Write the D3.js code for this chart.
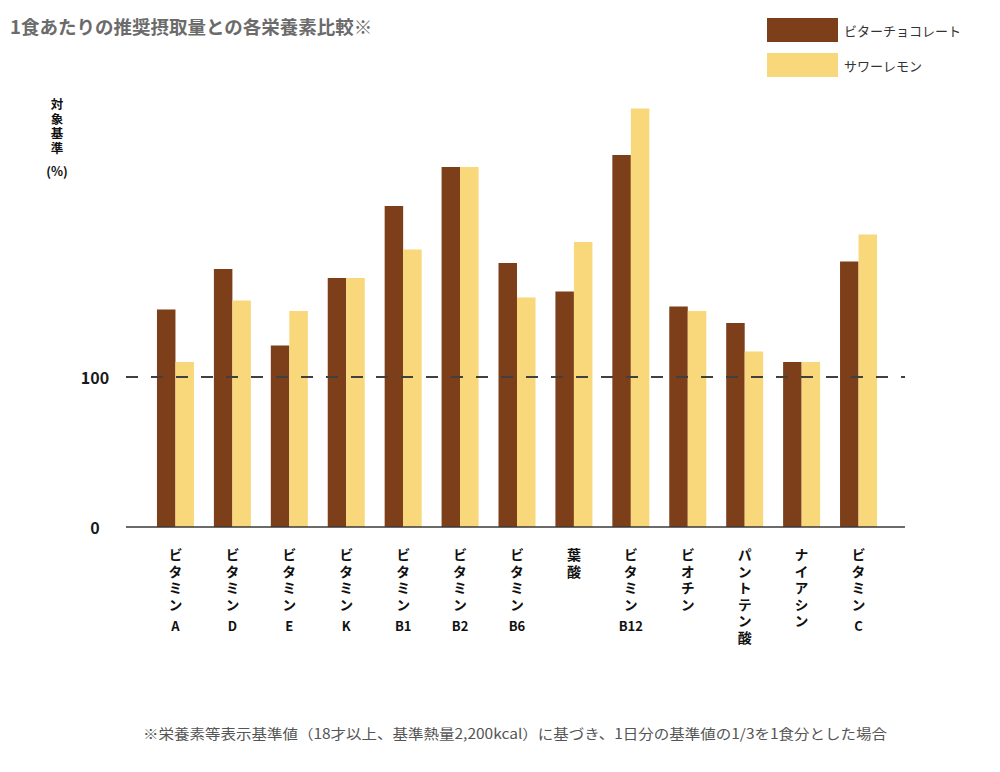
<!DOCTYPE html>
<html>
<head>
<meta charset="utf-8">
<script src="https://cdn.jsdelivr.net/npm/d3@7/dist/d3.min.js"></script>
<style>
  html, body { margin: 0; padding: 0; background: #fff; }
  svg { display: block; font-family: "Noto Sans CJK JP", "Noto Sans", sans-serif; }
  .vert { writing-mode: vertical-rl; text-orientation: upright; }
</style>
</head>
<body>
<svg id="chart" width="1000" height="772"></svg>
<script>
// nutrient categories: vertical kana part + latin suffix
const categories = ['ビタミンA', 'ビタミンD', 'ビタミンE', 'ビタミンK', 'ビタミンB1', 'ビタミンB2', 'ビタミンB6',
  '葉酸', 'ビタミンB12', 'ビオチン', 'パントテン酸', 'ナイアシン', 'ビタミンC']
const seriesNames = ['ビターチョコレート', 'サワーレモン']
// % of reference value per meal
const bitterChoco = [145, 172, 121, 166, 214, 240, 176, 157, 248, 147, 136, 110, 177]
const sourLemon = [110, 151, 144, 166, 185, 240, 153, 190, 279, 144, 117, 110, 195]
const yTicks = [0, 100]
const colors = ['#7d3f19', '#f8d87a']

const svg = d3.select('#chart')

const x0 = d3.scaleBand().domain(categories).range([147, 887]).padding(0)
const pairW = 37
const bw = x0.bandwidth()
const x1 = d3.scaleBand().domain(seriesNames).range([(bw - pairW) / 2, (bw + pairW) / 2])
const y = d3.scaleLinear().domain([0, 100]).range([527, 377])

// title
svg.append('text')
  .attr('x', 10)
  .attr('y', 34)
  .attr('font-size', 18.5)
  .attr('font-weight', 'bold')
  .attr('fill', '#6b6b6b')
  .text('1食あたりの推奨摂取量との各栄養素比較※')

// legend
const legend = svg.append('g')
seriesNames.forEach((name, i) => {
  legend.append('rect')
    .attr('x', 767).attr('y', 18 + i * 35)
    .attr('width', 71).attr('height', 24)
    .attr('fill', colors[i])
  legend.append('text')
    .attr('x', 844).attr('y', 30 + i * 35)
    .attr('dominant-baseline', 'central')
    .attr('font-size', 13)
    .attr('fill', '#333')
    .text(name)
})

// y axis title
svg.append('text')
  .attr('class', 'vert')
  .attr('x', 57).attr('y', 98)
  .attr('font-size', 12.5)
  .attr('font-weight', 'bold')
  .attr('fill', '#111')
  .style('letter-spacing', '2px')
  .text('対象基準')
svg.append('text')
  .attr('x', 57).attr('y', 170)
  .attr('text-anchor', 'middle')
  .attr('dominant-baseline', 'central')
  .attr('font-size', 12.5)
  .attr('font-weight', 'bold')
  .attr('fill', '#111')
  .text('(%)')

// y tick labels
svg.append('g').selectAll('text')
  .data(yTicks)
  .enter()
  .append('text')
  .attr('x', 95)
  .attr('y', d => y(d))
  .attr('text-anchor', 'middle')
  .attr('dominant-baseline', 'central')
  .attr('font-size', 16)
  .attr('font-weight', 'bold')
  .attr('fill', '#1a1a1a')
  .text(d => d)

// bars
const rows = categories.map((c, i) => ({ cat: c, vals: [bitterChoco[i], sourLemon[i]] }))
const groups = svg.append('g').selectAll('g')
  .data(rows)
  .enter()
  .append('g')
  .attr('transform', d => `translate(${x0(d.cat)},0)`)

groups.selectAll('rect')
  .data(d => d.vals.map((v, i) => ({ name: seriesNames[i], v, i })))
  .enter()
  .append('rect')
  .attr('x', d => x1(d.name))
  .attr('y', d => y(d.v))
  .attr('width', x1.bandwidth())
  .attr('height', d => y(0) - y(d.v))
  .attr('fill', d => colors[d.i])

// baseline and 100% reference
svg.append('line')
  .attr('x1', 126).attr('x2', 905)
  .attr('y1', y(0)).attr('y2', y(0))
  .attr('stroke', '#3a3a3a').attr('stroke-width', 1.5)
svg.append('line')
  .attr('x1', 126).attr('x2', 905)
  .attr('y1', y(100)).attr('y2', y(100))
  .attr('stroke', '#404040').attr('stroke-width', 2)
  .attr('stroke-dasharray', '12,13')

// x labels: kana stacked vertically, latin suffix on its own line below
const xLabels = svg.append('g')
const step = 16.5
categories.forEach(c => {
  const m = c.match(/^(.*?)([A-Z0-9]+)?$/)
  const kana = m[1]
  const cx = x0(c) + bw / 2
  xLabels.append('text')
    .attr('class', 'vert')
    .attr('x', cx).attr('y', 548)
    .attr('font-size', 14)
    .attr('font-weight', 'bold')
    .attr('fill', '#111')
    .style('letter-spacing', `${step - 14}px`)
    .text(kana)
  if (m[2]) {
    xLabels.append('text')
      .attr('x', cx)
      .attr('y', 556 + kana.length * step + 3)
      .attr('text-anchor', 'middle')
      .attr('dominant-baseline', 'central')
      .attr('font-size', 13)
      .attr('font-weight', 'bold')
      .attr('fill', '#111')
      .text(m[2])
  }
})

// footnote
svg.append('text')
  .attr('x', 143)
  .attr('y', 733)
  .attr('dominant-baseline', 'central')
  .attr('font-size', 14)
  .attr('fill', '#555')
  .attr('textLength', 744)
  .attr('lengthAdjust', 'spacingAndGlyphs')
  .text('※栄養素等表示基準値（18才以上、基準熱量2,200kcal）に基づき、1日分の基準値の1/3を1食分とした場合')
</script>
</body>
</html>
